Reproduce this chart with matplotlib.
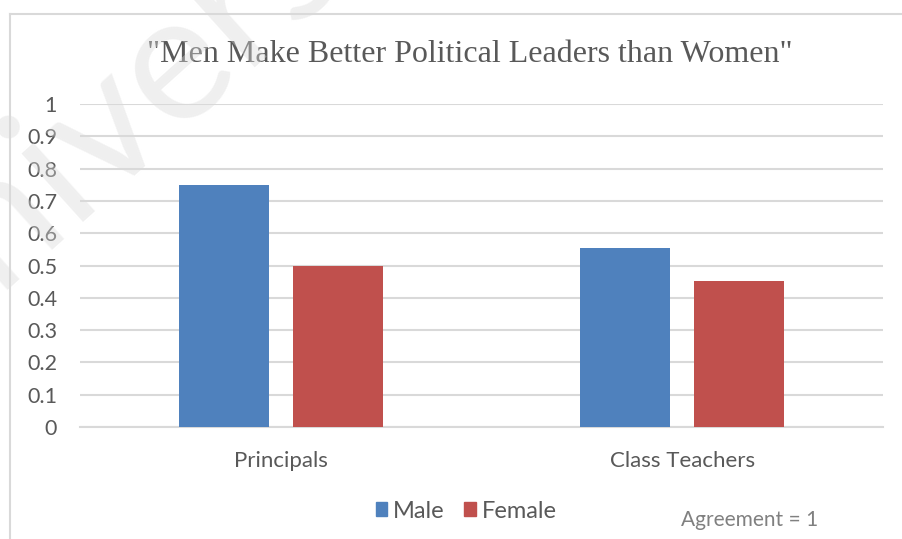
import matplotlib

matplotlib.use("Agg")
import matplotlib.pyplot as plt
from matplotlib.lines import Line2D
from matplotlib.patches import Patch

# data
categories = ["Principals", "Class Teachers"]
male = [0.75, 0.555]
female = [0.50, 0.452]
yticks = [0, 0.1, 0.2, 0.3, 0.4, 0.5, 0.6, 0.7, 0.8, 0.9, 1]
ytick_labels = ["0", "0.1", "0.2", "0.3", "0.4", "0.5", "0.6", "0.7", "0.8", "0.9", "1"]

BLUE = "#4f81bd"
RED = "#c0504d"
GREY_TEXT = "#595959"
GRID = "#d9d9d9"
SANS = ["Lato", "DejaVu Sans"]

W, H = 903, 539
fig = plt.figure(figsize=(W / 100, H / 100), dpi=100)
fig.patch.set_facecolor("white")

# outer chart frame (cut off at right and bottom like the source)
fig.add_artist(Line2D([10 / W, 10 / W], [0, 1 - 14 / H], color=GRID, lw=1.5))
fig.add_artist(Line2D([10 / W, 1], [1 - 14 / H, 1 - 14 / H], color=GRID, lw=1.5))

ax = fig.add_axes([80 / W, 1 - 427 / H, (883 - 80) / W, (427 - 104) / H])
x = [0, 1]
width = 0.224
offset = 0.142
ax.bar([i - offset for i in x], male, width, color=BLUE, zorder=3, label="Male")
ax.bar([i + offset for i in x], female, width, color=RED, zorder=3, label="Female")

ax.set_xlim(-0.5, 1.5)
ax.set_ylim(0, 1)
ax.set_yticks(yticks)
ax.set_yticklabels(ytick_labels, fontsize=15.5, color=GREY_TEXT, family=SANS)
ax.set_xticks(x)
ax.set_xticklabels(categories, fontsize=16, color=GREY_TEXT, family=SANS)
ax.tick_params(axis="both", length=0)
ax.tick_params(axis="y", pad=16.5)
ax.tick_params(axis="x", pad=17)
ax.grid(axis="y", color=GRID, lw=1.5, zorder=0)
ax.set_axisbelow(True)
for side in ["left", "right", "top"]:
    ax.spines[side].set_visible(False)
ax.spines["bottom"].set_color(GRID)
ax.spines["bottom"].set_linewidth(1.5)

fig.text(470 / W, 1 - 55 / H, '"Men Make Better Political Leaders than Women"',
         ha="center", va="center", fontsize=23, color=GREY_TEXT, family="Liberation Serif")

handles = [Patch(color=BLUE, label="Male"), Patch(color=RED, label="Female")]
fig.legend(handles=handles, loc="center", bbox_to_anchor=(466 / W, 1 - 511 / H), ncol=2,
           frameon=False, handlelength=0.5, handleheight=0.5, handletextpad=0.25,
           columnspacing=0.8, prop={"family": SANS, "size": 17}, labelcolor=GREY_TEXT)

fig.text(750 / W, 1 - 520 / H, "Agreement = 1", ha="center", va="center",
         fontsize=15, color="#808080", family=SANS)

# faint watermark running across the upper-left corner (cut by the edges, as in the source)
fig.text(163 / W, 1 - 68 / H, "University", ha="center", va="center", rotation=42,
         rotation_mode="anchor", fontsize=130, color="#d9d9d9", alpha=0.4, family=SANS)

fig.savefig("out.png", dpi=100)
